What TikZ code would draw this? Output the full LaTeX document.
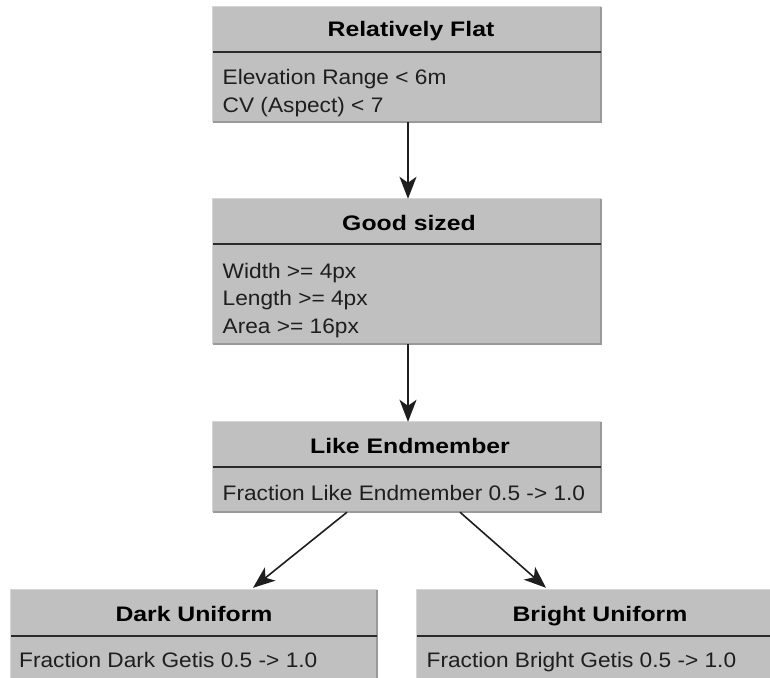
\documentclass[tikz,border=0pt]{standalone}
\usepackage{fontspec}
\setmainfont{Liberation Sans}
\newfontfamily\bodyfont[FakeStretch=1.08]{Liberation Sans}
\newfontfamily\headfont[FakeStretch=1.18]{Liberation Sans}
\usetikzlibrary{arrows.meta,calc}

\definecolor{boxfill}{HTML}{C0C0C0}
\definecolor{edgedark}{HTML}{999999}
\definecolor{edgelight}{HTML}{D6D6D6}
\definecolor{rulecol}{HTML}{2A2A2A}
\definecolor{inkcol}{HTML}{1E1E1E}

\tikzset{
  umlbox/.style={rectangle, fill=boxfill, inner sep=0pt, draw=none},
  darkedge/.style={draw=edgedark, line width=2pt},
  lightedge/.style={draw=edgelight, line width=1pt},
  divider/.style={draw=rulecol, line width=2pt},
  titletext/.style={anchor=base, inner sep=0pt, text=black,
    font=\headfont\bfseries\fontsize{21}{25}\selectfont},
  bodytext/.style={anchor=base west, inner sep=0pt, text=inkcol,
    font=\bodyfont\fontsize{21}{25}\selectfont},
  conn/.style={draw=inkcol, line width=1.6pt,
    -{Stealth[length=22pt,width=17pt,inset=6pt]}},
}

% draws the shaded frame of a box node
\newcommand{\umlframe}[1]{%
  \draw[lightedge] (#1.south west) -- (#1.north west) -- (#1.north east);
  \draw[darkedge] (#1.north east) -- (#1.south east) -- (#1.south west);
}

\begin{document}
\begin{tikzpicture}[x=1pt,y=-1pt]
\clip (0,0) rectangle (770,677);
\fill[white] (0,0) rectangle (770,677);

% Relatively Flat
\node[umlbox, minimum width=388pt, minimum height=115pt] (rf) at (407,64.5) {};
\umlframe{rf}
\draw[divider] (rf.west |- 0,52) -- (rf.east |- 0,52);
\node[titletext] (rf-title) at (411,37) {Relatively Flat};
\node[bodytext] (rf-l1) at (222.5,84) {Elevation Range < 6m};
\node[bodytext] (rf-l2) at (222.5,112) {CV (Aspect) < 7};

% Good sized
\node[umlbox, minimum width=388pt, minimum height=145pt] (gs) at (407,271.5) {};
\umlframe{gs}
\draw[divider] (gs.west |- 0,244) -- (gs.east |- 0,244);
\node[titletext] (gs-title) at (409,230) {Good sized};
\node[bodytext] (gs-l1) at (222.5,278) {Width >= 4px};
\node[bodytext] (gs-l2) at (222.5,305.5) {Length >= 4px};
\node[bodytext] (gs-l3) at (222.5,333) {Area >= 16px};

% Like Endmember
\node[umlbox, minimum width=388pt, minimum height=90pt] (le) at (407,467) {};
\umlframe{le}
\draw[divider] (le.west |- 0,467) -- (le.east |- 0,467);
\node[titletext] (le-title) at (410,453.5) {Like Endmember};
\node[bodytext] (le-l1) at (222.5,500) {Fraction Like Endmember 0.5 -> 1.0};

% Dark Uniform
\node[umlbox, minimum width=366pt, minimum height=100pt] (du) at (194,640) {};
\umlframe{du}
\draw[divider] (du.west |- 0,636) -- (du.east |- 0,636);
\node[titletext] (du-title) at (194,621) {Dark Uniform};
\node[bodytext] (du-l1) at (19,667.5) {Fraction Dark Getis 0.5 -> 1.0};

% Bright Uniform
\node[umlbox, minimum width=366pt, minimum height=100pt] (bu) at (600,640) {};
\umlframe{bu}
\draw[divider] (bu.west |- 0,636) -- (bu.east |- 0,636);
\node[titletext] (bu-title) at (600,621) {Bright Uniform};
\node[bodytext] (bu-l1) at (426.5,667.5) {Fraction Bright Getis 0.5 -> 1.0};

% connectors
\draw[conn] ($(rf.south)+(1,0)$) -- ($(gs.north)+(1,0)$);
\draw[conn] ($(gs.south)+(1,0)$) -- ($(le.north)+(1,0)$);
\draw[conn] ($(le.south)+(-60,0)$) -- ($(du.north)+(59,-2)$);
\draw[conn] ($(le.south)+(53,0)$) -- ($(bu.north)+(-54,-2)$);
\end{tikzpicture}
\end{document}
